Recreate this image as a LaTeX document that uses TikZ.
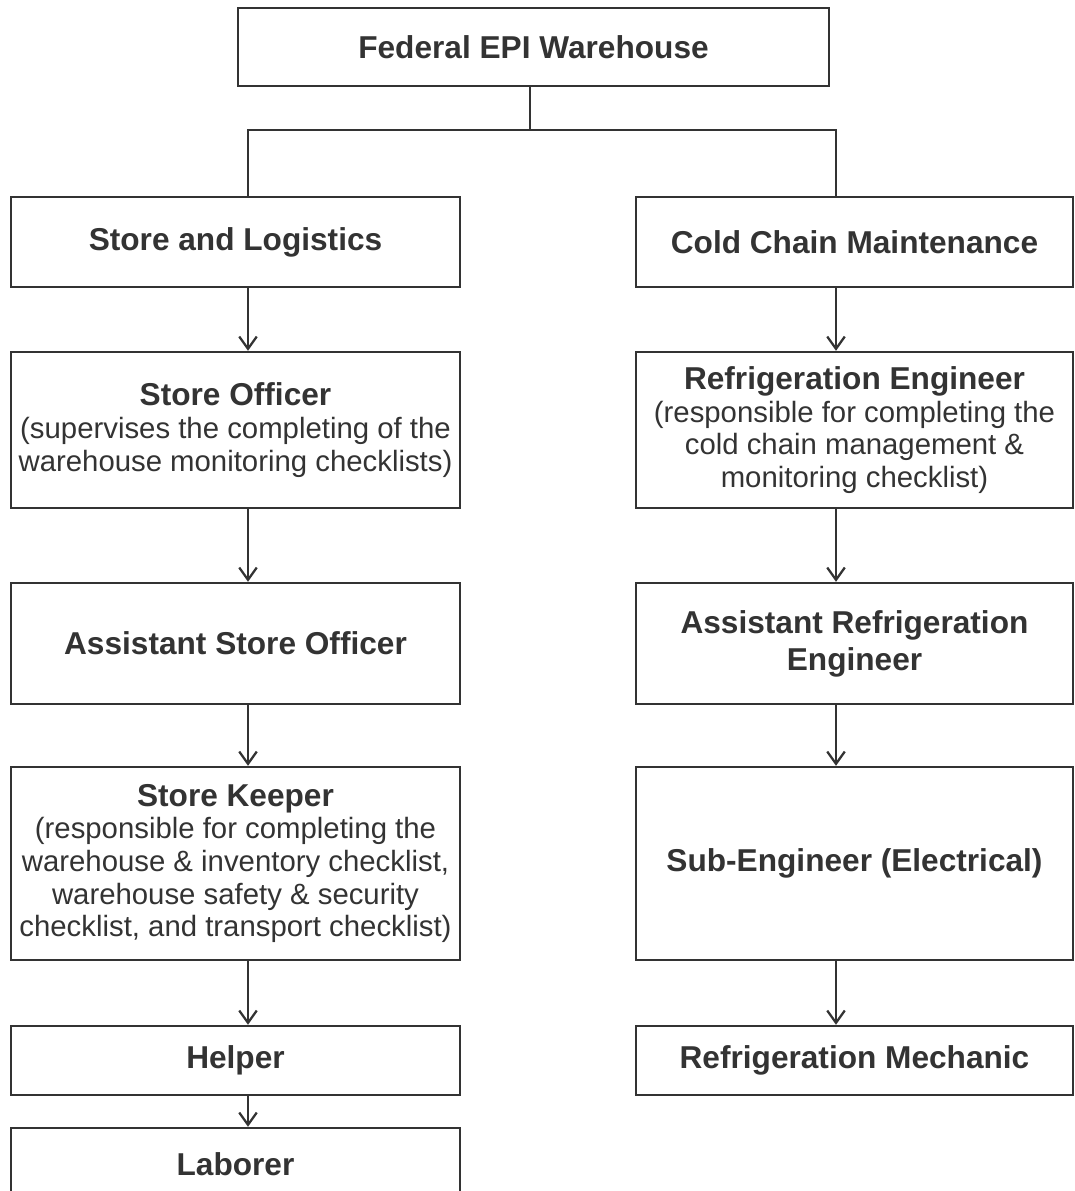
\documentclass[tikz,border=0pt]{standalone}
\usepackage{fontspec}
\setmainfont{Liberation Sans}
\usetikzlibrary{positioning,arrows.meta}
\definecolor{ink}{HTML}{333333}
\newcommand{\hdfont}{\fontsize{18}{21}\selectfont\bfseries}
\newcommand{\txfont}{\fontsize{16.7}{18.6}\selectfont}
\newcommand{\hd}[1]{{\fontsize{18}{18.6}\selectfont\bfseries #1}}
\tikzset{
  box/.style={draw=ink, line width=1.4pt, inner sep=0pt, align=center, text=ink, font=\hdfont},
  lcol/.style={box, minimum width=8.98cm},
  rcol/.style={box, minimum width=8.74cm},
  note/.style={font=\txfont},
  link/.style={draw=ink, line width=1.1pt},
  arr/.style={link, -{Straight Barb[length=7pt,width=10pt,line width=1.3pt]}}
}

\begin{document}
\begin{tikzpicture}[x=0.02cm,y=-0.02cm]
        \useasboundingbox (0,0) rectangle (1075,1191);
        % top
        \node[box, minimum width=11.82cm, minimum height=1.56cm] (fed) at (533.5,47) {Federal EPI Warehouse};
        % left column
        \node[lcol, minimum height=1.8cm] (sl) at (235.5,242) {Store and Logistics};
        \node[lcol, note, minimum height=3.12cm] (so) at (235.5,430)
          {\hd{Store Officer}\\(supervises the completing of the\\warehouse monitoring checklists)};
        \node[lcol, minimum height=2.42cm] (aso) at (235.5,643.5) {Assistant Store Officer};
        \node[lcol, note, minimum height=3.86cm] (sk) at (235.5,863.5)
          {\hd{Store Keeper}\\(responsible for completing the\\warehouse \& inventory checklist,\\warehouse safety \& security\\checklist, and transport checklist)};
        \node[lcol, minimum height=1.38cm] (hp) at (235.5,1060.5) {Helper};
        \node[lcol, minimum height=1.44cm] (lab) at (235.5,1164) {Laborer};
        % right column
        \node[rcol, minimum height=1.8cm] (cc) at (854.5,242) {Cold Chain Maintenance};
        \node[rcol, note, minimum height=3.12cm] (re) at (854.5,430)
          {\hd{Refrigeration Engineer}\\(responsible for completing the\\cold chain management \&\\monitoring checklist)};
        \node[rcol, minimum height=2.42cm] (are) at (854.5,643.5) {Assistant Refrigeration\\Engineer};
        \node[rcol, minimum height=3.86cm] (se) at (854.5,863.5) {Sub-Engineer (Electrical)};
        \node[rcol, minimum height=1.38cm] (rm) at (854.5,1060.5) {Refrigeration Mechanic};

        \coordinate (fx) at (530,0);
        \coordinate (lx) at (248,0);
        \coordinate (rx) at (836,0);
        \coordinate (bar) at (0,130);

        \draw[link] (fed.south -| fx) -- (fx |- bar);
        \draw[link] (sl.north -| lx) |- (fx |- bar) -| (cc.north -| rx);

        \foreach \a/\b in {sl/so, so/aso, aso/sk, sk/hp, hp/lab}
          \draw[arr] (\a.south -| lx) -- (\b.north -| lx);
        \foreach \a/\b in {cc/re, re/are, are/se, se/rm}
          \draw[arr] (\a.south -| rx) -- (\b.north -| rx);
\end{tikzpicture}
\end{document}
